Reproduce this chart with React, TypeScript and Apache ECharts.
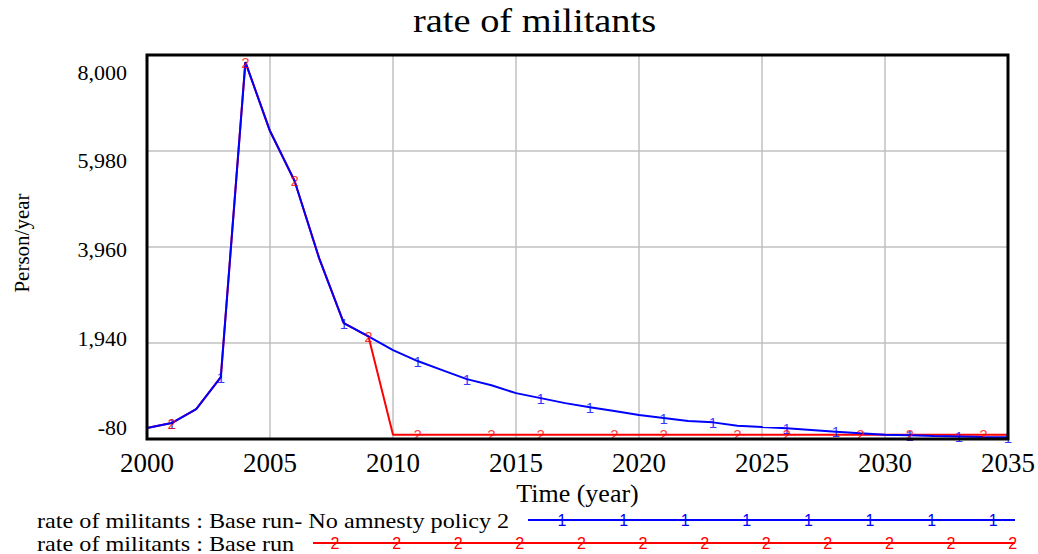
import React, { useEffect, useRef } from "react";
import * as echarts from "echarts";

const chartTitle = "rate of militants";
const xAxisTitle = "Time (year)";
const yAxisTitle = "Person/year";

const years = [
  2000, 2001, 2002, 2003, 2004, 2005, 2006, 2007, 2008, 2009, 2010, 2011,
  2012, 2013, 2014, 2015, 2016, 2017, 2018, 2019, 2020, 2021, 2022, 2023,
  2024, 2025, 2026, 2027, 2028, 2029, 2030, 2031, 2032, 2033, 2034, 2035,
];

// Series 1: rate of militants : Base run- No amnesty policy 2
const noAmnesty = [
  150, 256, 550, 1220, 7850, 6400, 5350, 3720, 2360, 2080, 1790, 1560,
  1370, 1180, 1050, 885, 780, 675, 590, 510, 425, 360, 300, 270,
  200, 170, 145, 110, 75, 40, 10, 0, -15, -25, -40, -45,
];

// Series 2: rate of militants : Base run
const baseRun = [
  150, 256, 550, 1220, 7850, 6400, 5350, 3720, 2360, 2080, 10, 10,
  10, 10, 10, 10, 10, 10, 10, 10, 10, 10, 10, 10,
  10, 10, 10, 10, 10, 10, 10, 10, 10, 10, 10, 10,
];

const markerYears1 = [2001, 2003, 2008, 2011, 2013, 2016, 2018, 2021, 2023, 2026, 2028, 2031, 2033, 2035];
const markerYears2 = [2001, 2004, 2006, 2009, 2011, 2014, 2016, 2019, 2021, 2024, 2026, 2029, 2031, 2034];

const yTickLabels = ["8,000", "5,980", "3,960", "1,940", "-80"];
const yMin = -80;
const yMax = 8000;
const yStep = 2020;

const series1Name = "rate of militants : Base run- No amnesty policy 2";
const series2Name = "rate of militants : Base run";

const BLUE = "#0000ff";
const RED = "#ff0000";
const SERIF = "'Liberation Serif', 'Times New Roman', serif";
const SANS = "'Liberation Sans', Arial, sans-serif";

export default function App() {
  const ref = useRef<HTMLDivElement>(null);

  useEffect(() => {
    if (!ref.current) return;
    const chart = echarts.init(ref.current, null, { renderer: "svg" });

    const W = 1038;
    const gridLeft = 147;
    const gridRight = 1008;
    const gridTop = 55;
    const gridBottom = 439;

    const pairs = (vals: number[]) => years.map((y, i) => [y, vals[i]]);
    const markerPairs = (ys: number[], vals: number[]) =>
      ys.map((y) => [y, vals[years.indexOf(y)]]);

    // y tick labels (Vensim spreads them evenly between slightly inset positions)
    const labTop = gridTop + 17;
    const labBot = gridBottom - 12;
    const yLabelEls = yTickLabels.map((t, i) => ({
      type: "text",
      x: 127,
      y: labTop + ((labBot - labTop) * i) / (yTickLabels.length - 1),
      style: {
        text: t,
        font: `22px ${SERIF}`,
        fill: "#000",
        textAlign: "right",
        textVerticalAlign: "middle",
      },
    }));

    const legendEls: any[] = [];
    const legendRow = (
      y: number,
      label: string,
      lineStart: number,
      firstMark: number,
      nMarks: number,
      mark: string,
      color: string
    ) => {
      legendEls.push({
        type: "text",
        x: 37,
        y,
        scaleX: 1.1,
        style: { text: label, font: `22px ${SERIF}`, fill: "#000", textVerticalAlign: "middle" },
      });
      legendEls.push({
        type: "line",
        shape: { x1: lineStart, y1: y, x2: 1015, y2: y },
        style: { stroke: color, lineWidth: 2 },
      });
      for (let i = 0; i < nMarks; i++) {
        legendEls.push({
          type: "text",
          x: firstMark + i * 61.6,
          y,
          style: {
            text: mark,
            font: `16px ${SANS}`,
            fill: color,
            textAlign: "center",
            textVerticalAlign: "middle",
          },
        });
      }
    };
    legendRow(520, series1Name, 528, 562, 8, "1", BLUE);
    legendRow(543, series2Name, 313, 335, 12, "2", RED);

    const markerLabel = (txt: string, color: string) => ({
      show: true,
      position: "inside",
      formatter: txt,
      color,
      fontSize: 15,
      fontFamily: SANS,
    });

    chart.setOption({
      animation: false,
      backgroundColor: "#fff",
      grid: {
        left: gridLeft,
        right: W - gridRight,
        top: gridTop,
        bottom: 554 - gridBottom,
        show: true,
        borderWidth: 0,
        backgroundColor: "#fff",
        containLabel: false,
      },
      xAxis: {
        type: "value",
        min: 2000,
        max: 2035,
        interval: 5,
        name: xAxisTitle,
        nameLocation: "middle",
        nameGap: 37,
        nameTextStyle: { fontFamily: SERIF, fontSize: 26, color: "#000" },
        axisLine: { show: false },
        axisTick: { show: false },
        axisLabel: {
          fontFamily: SERIF,
          fontSize: 27,
          color: "#000",
          margin: 10,
          formatter: (v: number) => String(v),
        },
        splitLine: { show: true, lineStyle: { color: "#c0c0c0", width: 1.5 } },
      },
      yAxis: [
        {
          type: "value",
          min: yMin,
          max: yMax,
          axisLine: { show: false },
          axisTick: { show: false },
          axisLabel: { show: false },
          splitLine: { show: false },
        },
        {
          // offset copy of the value axis, used only for the horizontal grid lines
          type: "value",
          min: 0,
          max: yMax - yMin,
          interval: yStep,
          position: "left",
          axisLine: { show: false },
          axisTick: { show: false },
          axisLabel: { show: false },
          splitLine: { show: true, lineStyle: { color: "#c0c0c0", width: 1.5 } },
        },
      ],
      graphic: [
        {
          type: "text",
          x: 413,
          y: 21,
          scaleX: 1.13,
          style: {
            text: chartTitle,
            font: `34px ${SERIF}`,
            fill: "#000",
            textAlign: "left",
            textVerticalAlign: "middle",
          },
        },
        ...yLabelEls,
        {
          type: "text",
          x: 22,
          y: 243,
          rotation: Math.PI / 2,
          style: {
            text: yAxisTitle,
            font: `21px ${SERIF}`,
            fill: "#000",
            textAlign: "center",
            textVerticalAlign: "middle",
          },
        },
        {
          type: "rect",
          z: 100,
          shape: { x: gridLeft, y: gridTop, width: gridRight - gridLeft, height: gridBottom - gridTop },
          style: { fill: "none", stroke: "#000", lineWidth: 3 },
          silent: true,
        },
        ...legendEls,
      ],
      series: [
        {
          name: series2Name,
          type: "line",
          data: pairs(baseRun),
          showSymbol: false,
          symbol: "none",
          lineStyle: { color: RED, width: 2 },
          z: 3,
        },
        {
          name: series1Name,
          type: "line",
          data: pairs(noAmnesty),
          showSymbol: false,
          symbol: "none",
          lineStyle: { color: BLUE, width: 2 },
          z: 4,
        },
        {
          type: "scatter",
          data: markerPairs(markerYears1, noAmnesty),
          symbolSize: 1,
          itemStyle: { color: "rgba(0,0,0,0)" },
          label: markerLabel("1", BLUE),
          z: 5,
        },
        {
          type: "scatter",
          data: markerPairs(markerYears2, baseRun),
          symbolSize: 1,
          itemStyle: { color: "rgba(0,0,0,0)" },
          label: markerLabel("2", RED),
          z: 6,
        },
      ],
    });

    return () => chart.dispose();
  }, []);

  return (
    <div
      ref={ref}
      style={{ position: "fixed", left: 0, top: 0, width: 1038, height: 554, background: "#fff" }}
    />
  );
}
